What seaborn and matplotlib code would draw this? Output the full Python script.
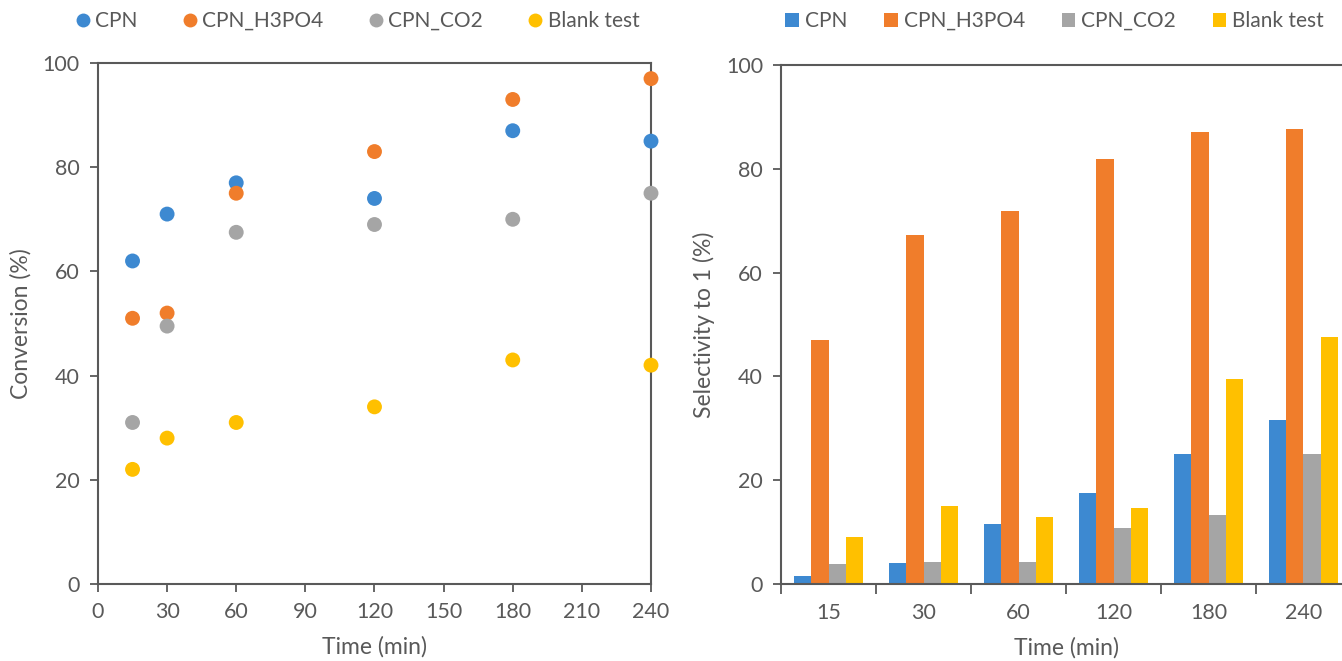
import matplotlib
matplotlib.use("Agg")
import matplotlib.pyplot as plt
from matplotlib.lines import Line2D
from matplotlib.patches import Patch
from matplotlib.ticker import FixedLocator, NullFormatter
import seaborn as sns
import pandas as pd

# ---- data ----
series = ["CPN", "CPN_H3PO4", "CPN_CO2", "Blank test"]
colors = ["#3D89D1", "#F07D2B", "#A5A5A5", "#FFC000"]

time_min = [15, 30, 60, 120, 180, 240]
conv_cpn = [62, 71, 77, 74, 87, 85]
conv_h3po4 = [51, 52, 75, 83, 93, 97]
conv_co2 = [31, 49.5, 67.5, 69, 70, 75]
conv_blank = [22, 28, 31, 34, 43, 42]

time_labels = ["15", "30", "60", "120", "180", "240"]
sel_cpn = [1.5, 4.0, 11.5, 17.5, 25.0, 31.6]
sel_h3po4 = [47.0, 67.2, 71.9, 81.9, 87.0, 87.6]
sel_co2 = [3.8, 4.2, 4.2, 10.8, 13.3, 25.0]
sel_blank = [9.0, 15.0, 12.9, 14.6, 39.5, 47.6]

conv = [conv_cpn, conv_h3po4, conv_co2, conv_blank]
sel = [sel_cpn, sel_h3po4, sel_co2, sel_blank]

df_conv = pd.DataFrame([(t, v, s) for s, vals in zip(series, conv) for t, v in zip(time_min, vals)],
                       columns=["time", "value", "series"])
df_sel = pd.DataFrame([(t, v, s) for s, vals in zip(series, sel) for t, v in zip(time_labels, vals)],
                      columns=["time", "value", "series"])

sns.set_theme(style="white")
plt.rcParams["font.family"] = ["Lato", "DejaVu Sans"]
txt = "#595959"
axc = "#595959"
TICK = 15.5
LAB = 16.5
LEG = 15

fig = plt.figure(figsize=(13.42, 6.61), dpi=100)
ax1 = fig.add_axes([0.0730, 0.1165, 0.4121, 0.7882])
ax2 = fig.add_axes([0.5820, 0.1165, 0.4247, 0.7852])

pal = dict(zip(series, colors))

# ---- left scatter ----
sns.scatterplot(data=df_conv, x="time", y="value", hue="series", palette=pal,
                hue_order=series, s=115, edgecolor="none", ax=ax1, legend=False,
                clip_on=False, zorder=3)
ax1.set_xlim(0, 240)
ax1.set_ylim(0, 100)
ax1.set_xticks(range(0, 241, 30))
ax1.set_yticks(range(0, 101, 20))
ax1.set_xlabel("Time (min)", fontsize=LAB, color=txt, labelpad=10)
ax1.set_ylabel("Conversion (%)", fontsize=LAB, color=txt, labelpad=8)

# ---- right bars ----
sns.barplot(data=df_sel, x="time", y="value", hue="series", palette=pal,
            hue_order=series, order=time_labels, width=0.73, gap=0,
            ax=ax2, legend=False, saturation=1, errorbar=None, linewidth=0)
ax2.set_xlim(-0.5, 5.5)
ax2.set_ylim(0, 100)
ax2.set_yticks(range(0, 101, 20))
ax2.xaxis.set_major_locator(FixedLocator([i - 0.5 for i in range(7)]))
ax2.xaxis.set_major_formatter(NullFormatter())
ax2.xaxis.set_minor_locator(FixedLocator(list(range(6))))
ax2.set_xticklabels(time_labels, minor=True)
ax2.set_xlabel("Time (min)", fontsize=LAB, color=txt, labelpad=10)
ax2.set_ylabel("Selectivity to 1 (%)", fontsize=LAB, color=txt, labelpad=8)

for ax in (ax1, ax2):
    for sp in ax.spines.values():
        sp.set_visible(True)
        sp.set_color(axc)
        sp.set_linewidth(1.5)
    ax.tick_params(axis="both", which="major", direction="out", length=6, width=1.3,
                   color=axc, labelsize=TICK, labelcolor=txt, pad=7)
    ax.tick_params(axis="x", which="major", bottom=True)
    ax.tick_params(axis="y", which="major", left=True)

ax2.tick_params(axis="x", which="major", length=7)
ax2.tick_params(axis="x", which="minor", length=0, pad=14, labelsize=TICK, labelcolor=txt)

# ---- legends ----
h1 = [Line2D([0], [0], marker="o", linestyle="none", markersize=10, markerfacecolor=c,
             markeredgecolor="none", label=s) for s, c in zip(series, colors)]
fig.legend(handles=h1, loc="center", bbox_to_anchor=(0.266, 0.968), ncol=4, frameon=False,
           fontsize=LEG, labelcolor=txt, handlelength=0.8, handletextpad=0.2, columnspacing=2.1)
h2 = [Patch(facecolor=c, edgecolor="none", label=s) for s, c in zip(series, colors)]
fig.legend(handles=h2, loc="center", bbox_to_anchor=(0.786, 0.968), ncol=4, frameon=False,
           fontsize=LEG, labelcolor=txt, handlelength=0.65, handleheight=0.65,
           handletextpad=0.3, columnspacing=1.75)

fig.savefig("out.png", dpi=100)
